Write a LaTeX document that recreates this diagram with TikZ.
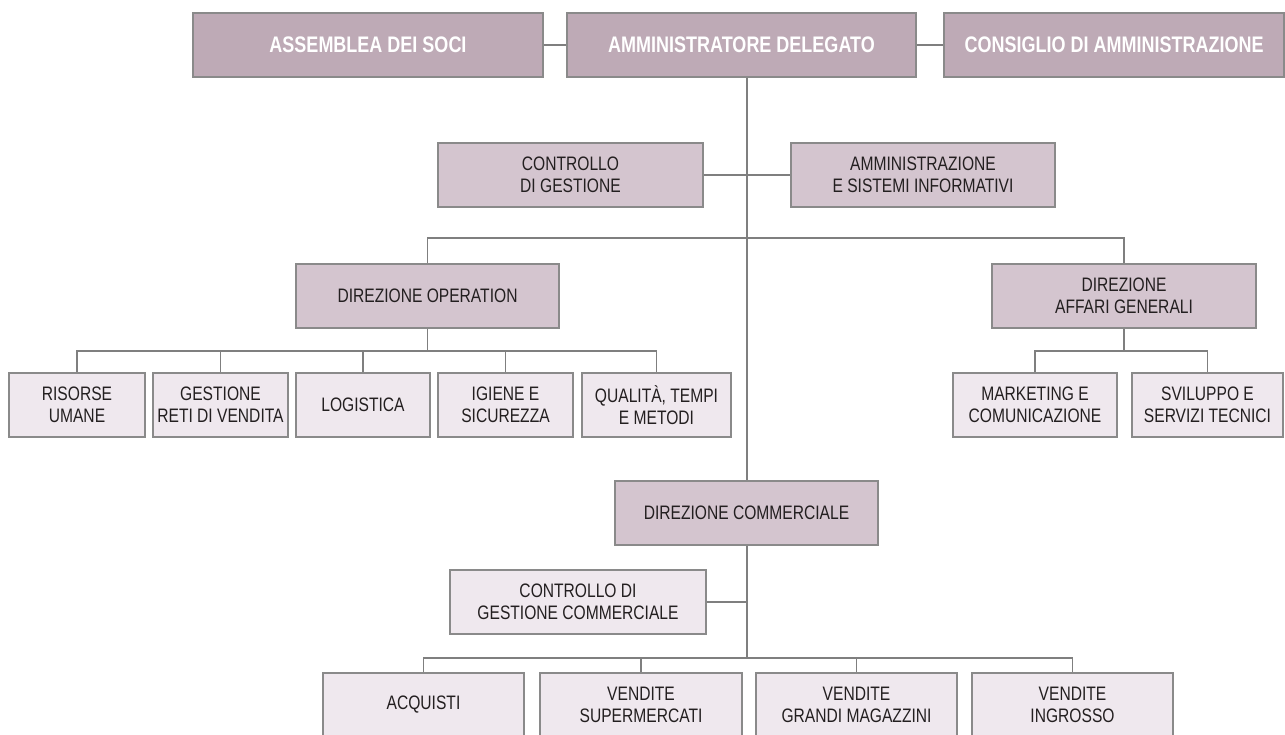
\documentclass[tikz,border=0pt]{standalone}
\usepackage{fontspec}
\setmainfont{Liberation Sans}[FakeStretch=0.8]
\usepackage{tikz}
\usetikzlibrary{positioning}
\definecolor{mauvedark}{HTML}{BEAAB6}
\definecolor{mauvemid}{HTML}{D4C5CF}
\definecolor{mauvelight}{HTML}{EFE8EE}
\definecolor{edgegray}{HTML}{8A8A8A}
\definecolor{linkgray}{HTML}{7F7F7F}
\definecolor{textgray}{HTML}{231F20}

\begin{document}
\begin{tikzpicture}[x=1pt,y=-1pt,
  box/.style={rectangle,draw=edgegray,line width=1.6pt,inner sep=0pt,align=center,
    minimum height=64pt,text=textgray,font=\fontsize{19.5}{22}\selectfont},
  topbox/.style={box,fill=mauvedark,text=white,font=\fontsize{22.5}{25}\selectfont\bfseries},
  midbox/.style={box,fill=mauvemid},
  leafbox/.style={box,fill=mauvelight},
  link/.style={draw=linkgray,line width=1.8pt}]
\useasboundingbox (0,0) rectangle (1285,734);

% vertici
\node[topbox,minimum width=350pt] (soci) at (368,45) {ASSEMBLEA DEI SOCI};
\node[topbox,minimum width=349pt] (ad) at (741.5,45) {AMMINISTRATORE DELEGATO};
\node[topbox,minimum width=340pt] (cda) at (1114,45) {CONSIGLIO DI AMMINISTRAZIONE};

% staff
\node[midbox,minimum width=265pt] (cdg) at (570.5,175) {CONTROLLO\\DI GESTIONE};
\node[midbox,minimum width=264pt] (asi) at (923,175) {AMMINISTRAZIONE\\E SISTEMI INFORMATIVI};

% direzioni
\node[midbox,minimum width=263pt] (dop) at (427.5,296) {DIREZIONE OPERATION};
\node[midbox,minimum width=264pt] (dag) at (1124,296) {DIREZIONE\\AFFARI GENERALI};
\node[midbox,minimum width=263pt] (dcom) at (746.5,513) {DIREZIONE COMMERCIALE};
\node[leafbox,minimum width=256pt] (cdgc) at (578,602) {CONTROLLO DI\\GESTIONE COMMERCIALE};

% operation
\node[leafbox,minimum width=136pt] (ru) at (77,405) {RISORSE\\UMANE};
\node[leafbox,minimum width=135pt] (grv) at (220.5,405) {GESTIONE\\RETI DI VENDITA};
\node[leafbox,minimum width=134pt] (log) at (363,405) {LOGISTICA};
\node[leafbox,minimum width=135pt] (igs) at (505.5,405) {IGIENE E\\SICUREZZA};
\node[leafbox,minimum width=149pt] (qtm) at (656.5,405) {QUALITÀ, TEMPI\\E METODI};

% affari generali
\node[leafbox,minimum width=164pt] (mkt) at (1035,405) {MARKETING E\\COMUNICAZIONE};
\node[leafbox,minimum width=151pt] (sst) at (1207.5,405) {SVILUPPO E\\SERVIZI TECNICI};

% commerciale
\node[leafbox,minimum width=201pt] (acq) at (423.5,705) {ACQUISTI};
\node[leafbox,minimum width=202pt] (vsm) at (641,705) {VENDITE\\SUPERMERCATI};
\node[leafbox,minimum width=201pt] (vgm) at (856.5,705) {VENDITE\\GRANDI MAGAZZINI};
\node[leafbox,minimum width=201pt] (vin) at (1072.5,705) {VENDITE\\INGROSSO};

\coordinate (trunk) at (747,658);

\draw[link] (soci) -- (ad);
\draw[link] (ad) -- (cda);
\draw[link] (ad.south -| trunk) -- (dcom.north -| trunk);
\draw[link] (dcom.south -| trunk) -- (trunk);
\draw[link] (cdg.east) -- (asi.west);
\draw[link] (cdgc.east) -- (cdgc.east -| trunk);
\draw[link] (dop.north) -- (dop.north |- 0,238) -| (dag.north);

\draw[link] (dop.south) -- (dop.south |- 0,351);
\draw[link] (ru.north) -- (ru.north |- 0,351) -| (qtm.north);
\foreach \n in {grv,log,igs}
  \draw[link] (\n.north) -- (\n.north |- 0,351);

\draw[link] (dag.south) -- (dag.south |- 0,351);
\draw[link] (mkt.north) -- (mkt.north |- 0,351) -| (sst.north);

\draw[link] (acq.north) |- (trunk) -| (vin.north);
\foreach \n in {vsm,vgm}
  \draw[link] (\n.north) -- (\n.north |- trunk);
\end{tikzpicture}
\end{document}
